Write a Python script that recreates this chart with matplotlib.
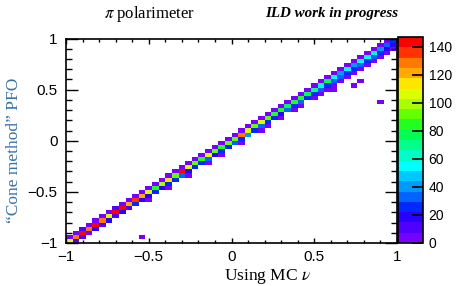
"""
pi polarimeter : cone method PFO vs MC neutrino (2D histogram, ROOT colz style)
"""

import matplotlib
matplotlib.use("Agg")
import matplotlib.pyplot as plt
import numpy as np
from matplotlib.colors import ListedColormap, BoundaryNorm
from matplotlib.ticker import MultipleLocator

plt.rcParams['mathtext.fontset'] = 'stix'

# binning : 50 x 50 bins on [-1, 1]
nbins = 50
z_max = 147

# counts on the diagonal, bin (i, i)
diag = [105, 128, 140, 130, 142, 125, 110, 145, 140, 122,
        138, 120, 108, 88, 100, 112, 95, 140, 110, 95,
        85, 110, 95, 85, 90, 95, 125, 110, 95, 110,
        95, 85, 85, 80, 82, 85, 78, 70, 62, 75,
        55, 40, 56, 42, 55, 58, 62, 42, 30, 28]

# counts just below the diagonal, bin (i, i-1)
below = [0, 8, 10, 6, 15, 8, 20, 10, 22, 8,
         25, 15, 20, 24, 22, 28, 25, 30, 22, 26,
         24, 30, 22, 28, 25, 32, 24, 40, 26, 30,
         24, 28, 22, 30, 26, 32, 28, 24, 30, 26,
         36, 30, 24, 28, 32, 26, 30, 24, 22, 18]

# counts just above the diagonal, bin (i, i+1)
above = [6, 5, 8, 4, 7, 5, 6, 8, 5, 6,
         7, 5, 6, 4, 6, 5, 7, 6, 5, 6,
         4, 6, 5, 7, 5, 6, 5, 6, 4, 6,
         5, 6, 5, 4, 6, 5, 6, 5, 6, 5,
         6, 5, 6, 5, 4, 6, 5, 6, 5, 0]

# second band below the diagonal, bin (i, i-2)
below2 = [0, 0, 0, 0, 0, 0, 0, 0, 0, 0,
          0, 0, 3, 0, 0, 4, 0, 0, 3, 0,
          0, 4, 0, 3, 0, 0, 4, 0, 0, 3,
          4, 0, 3, 0, 4, 3, 0, 4, 5, 4,
          3, 5, 4, 6, 4, 5, 6, 5, 4, 5]

# isolated entries (x, y, counts)
out_x = [-0.54, 0.90, 0.78, 0.74, 0.62]
out_y = [-0.94, 0.38, 0.58, 0.54, 0.50]
out_w = [4, 5, 4, 4, 4]

# ROOT-like 20 level rainbow palette, bottom to top
palette = ['#7800ff', '#5000ff', '#2a00ff', '#0028ff', '#0064ff',
           '#009aff', '#00c8ff', '#00ffff', '#00ffc8', '#00ff8c',
           '#00ff50', '#20ff20', '#64ff00', '#a8ff00', '#dcff00',
           '#ffe600', '#ffaa00', '#ff7800', '#ff3200', '#ff0000']

cb_ticks = [0, 20, 40, 60, 80, 100, 120, 140]


def build_hist():
    """Remplit l'histogramme 2D a partir des listes"""
    h = np.zeros((nbins, nbins))
    for i in range(nbins):
        h[i, i] += diag[i]
        if i >= 1:
            h[i, i - 1] += below[i]
        if i >= 2:
            h[i, i - 2] += below2[i]
        if i + 1 < nbins:
            h[i, i + 1] += above[i]
    edges = np.linspace(-1, 1, nbins + 1)
    ho, _, _ = np.histogram2d(out_x, out_y, bins=[edges, edges], weights=out_w)
    h += ho
    return edges, np.ma.masked_where(h <= 0, h)


def main():
    edges, h = build_hist()

    W, H = 457, 286
    fig = plt.figure(figsize=(W / 100, H / 100), dpi=100)
    ax = fig.add_axes([66 / W, 1 - 243 / H, 331 / W, 204.5 / H])
    cax = fig.add_axes([398 / W, 1 - 243 / H, 25 / W, 206 / H])

    cmap = ListedColormap(palette)
    norm = BoundaryNorm(np.linspace(0, z_max, len(palette) + 1), len(palette))
    mesh = ax.pcolormesh(edges, edges, h.T, cmap=cmap, norm=norm)

    ax.set_xlim(-1, 1)
    ax.set_ylim(-1, 1)
    ax.xaxis.set_minor_locator(MultipleLocator(0.1))
    ax.yaxis.set_minor_locator(MultipleLocator(0.1))
    ax.set_xticks([-1, -0.5, 0, 0.5, 1])
    ax.set_yticks([-1, -0.5, 0, 0.5, 1])
    ax.set_xticklabels(['\u22121', '\u22120.5', '0', '0.5', '1'],
                       family='Liberation Sans', fontsize=11)
    ax.set_yticklabels(['\u22121', '\u22120.5', '0', '0.5', '1'],
                       family='Liberation Sans', fontsize=11)
    ax.tick_params(axis='x', which='both', direction='in', top=True, pad=5)
    ax.tick_params(axis='x', which='major', length=3.5, width=1)
    ax.tick_params(axis='x', which='minor', length=2, width=1)
    ax.tick_params(axis='y', which='both', direction='in', right=True, pad=6)
    ax.tick_params(axis='y', which='major', length=8.5, width=1)
    ax.tick_params(axis='y', which='minor', length=4.3, width=1)
    for s in ax.spines.values():
        s.set_linewidth(1.2)

    cb = fig.colorbar(mesh, cax=cax, ticks=cb_ticks)
    cb.outline.set_linewidth(1.2)
    cb.ax.yaxis.set_ticks_position('right')
    cb.ax.tick_params(direction='in', length=8, width=1.2, pad=4, labelsize=10)
    cb.ax.minorticks_off()
    for lab in cb.ax.get_yticklabels():
        lab.set_family('Liberation Sans')

    fig.text(149 / W, 1 - 14 / H, r'$\pi$ polarimeter', ha='center', va='center',
             family='Liberation Serif', fontsize=12)
    fig.text(332 / W, 1 - 14 / H, 'ILD work in progress', ha='center', va='center',
             family='Liberation Serif', fontsize=10.8, weight='bold', style='italic')
    fig.text(14 / W, 1 - 150 / H, '\u201cCone method\u201d PFO', ha='center', va='center',
             rotation=90, family='Liberation Serif', fontsize=12.5, color='#3a72a8')
    fig.text(311 / W, 1 - 277 / H, r'Using MC $\nu$', ha='right', va='center',
             family='Liberation Serif', fontsize=12.5)

    plt.savefig('out.png', dpi=100)


if __name__ == "__main__":
    main()
